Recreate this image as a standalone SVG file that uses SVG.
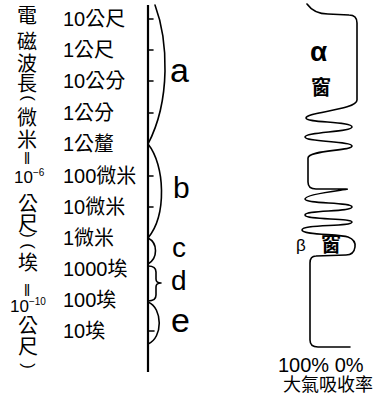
<svg xmlns="http://www.w3.org/2000/svg" width="386" height="396" viewBox="0 0 386 396">
<style>
.t{font-family:"Liberation Sans","Noto Sans CJK TC",sans-serif;fill:#000}
.v{font-family:"Noto Sans CJK TC","Liberation Sans",sans-serif;font-size:20px;text-anchor:middle;fill:#000}
.p{font-family:"Liberation Sans",sans-serif;font-size:17px;text-anchor:middle;fill:#000}
.lab{font-size:20px}
.hand{font-family:"Liberation Sans",sans-serif;fill:#000}
.ln{fill:none;stroke:#000;stroke-width:1.6;stroke-linecap:round;stroke-linejoin:round}
.ax{fill:none;stroke:#000;stroke-width:2.2}
</style>
<rect width="386" height="396" fill="#fff"/>
<g id="title">
<text class="v" x="27" y="23">電</text>
<text class="v" x="27" y="49">磁</text>
<text class="v" x="27" y="71">波</text>
<text class="v" x="27" y="91">長</text>
<text class="p" transform="translate(27,98) rotate(90)" dy="0.26em">(</text>
<text class="v" x="27" y="125">微</text>
<text class="v" x="27" y="147">米</text>
<text class="t" x="27" y="164" font-size="16" text-anchor="middle">‖</text>
<text class="t" x="14" y="183" font-size="17">10<tspan font-size="10" dy="-7">−6</tspan></text>
<text class="v" x="28" y="211">公</text>
<text class="v" x="28" y="231">尺</text>
<text class="p" transform="translate(27,235) rotate(90)" dy="0.26em">)</text>
<text class="p" transform="translate(27,246) rotate(90)" dy="0.26em">(</text>
<text class="v" x="28" y="270">埃</text>
<text class="t" x="27" y="296" font-size="16" text-anchor="middle">‖</text>
<text class="t" x="10" y="312" font-size="17">10<tspan font-size="10" dy="-7">−10</tspan></text>
<text class="v" x="28" y="333">公</text>
<text class="v" x="28" y="354">尺</text>
<text class="p" transform="translate(27,366) rotate(90)" dy="0.26em">)</text>
</g>
<g id="scale-labels" class="t lab">
<text x="63" y="26">10公尺</text>
<text x="63" y="57">1公尺</text>
<text x="63" y="88">10公分</text>
<text x="63" y="120">1公分</text>
<text x="63" y="151">1公釐</text>
<text x="63" y="183">100微米</text>
<text x="63" y="214">10微米</text>
<text x="63" y="245">1微米</text>
<text x="63" y="276">1000埃</text>
<text x="63" y="307">100埃</text>
<text x="63" y="338">10埃</text>
</g>
<g id="connectors">
<line class="ax" x1="148" y1="5" x2="148" y2="372"/>
<path class="ln" d="M148,19h5M148,50h5M148,81h5M148,113h5M148,176h5M148,207h5M148,331h6"/>
<path id="arc-a" class="ln" d="M155,5 C168,40 171,100 148,144"/>
<path id="arc-b" class="ln" d="M148,144 C165,165 167,215 148,238"/>
<path id="arc-c" class="ln" d="M148,238 C158,243 158,258 148,264"/>
<path id="arc-d" class="ln" d="M148,266 Q156,266 156,272 L156,279 Q156,283 161,283 Q156,283 156,287 L156,295 Q156,301 148,301"/>
<path id="arc-e" class="ln" d="M148,302 C163,308 163,338 148,344"/>
</g>
<g id="band-labels" class="hand">
<text x="170" y="82" font-size="34">a</text>
<text x="173" y="198" font-size="30">b</text>
<text x="172" y="257" font-size="28">c</text>
<text x="171" y="290" font-size="28">d</text>
<text x="171" y="332" font-size="34">e</text>
</g>
<g id="absorption">
<path class="ln" stroke-width="2" d="M307,4 C312,11 318,14 328,14 L349,15 Q357,15 357,23 L357,100 C357,110 306,112 306,118 C306,123 352,121 352,127 C352,132 305,132 305,137 C305,142 352,141 352,146 C352,151 308,150 308,158 L308,182 Q308,189 316,189 L346,189 C356,189 305,193 305,199 C305,204 352,202 352,207 C352,212 305,210 305,215 C305,220 352,218 352,222 C352,227 302,224 302,230 C302,235 340,234 348,237 Q356,240 355,247 Q354,255 346,255 L316,256 Q310,256 310,263 L310,340 Q310,347 318,347 L350,347"/>
<text class="hand" x="310" y="61" font-size="28" font-weight="bold">α</text>
<text class="v" x="321" y="95" font-size="14" font-weight="bold">窗</text>
<text class="hand" x="296" y="251" font-size="17">β</text>
<text class="v" x="331" y="252" font-size="14" font-weight="bold">窗</text>
</g>
<g id="axis-labels" class="t">
<text x="278" y="372" font-size="20">100% 0%</text>
<text x="283" y="391" font-size="18">大氣吸收率</text>
</g>
</svg>
